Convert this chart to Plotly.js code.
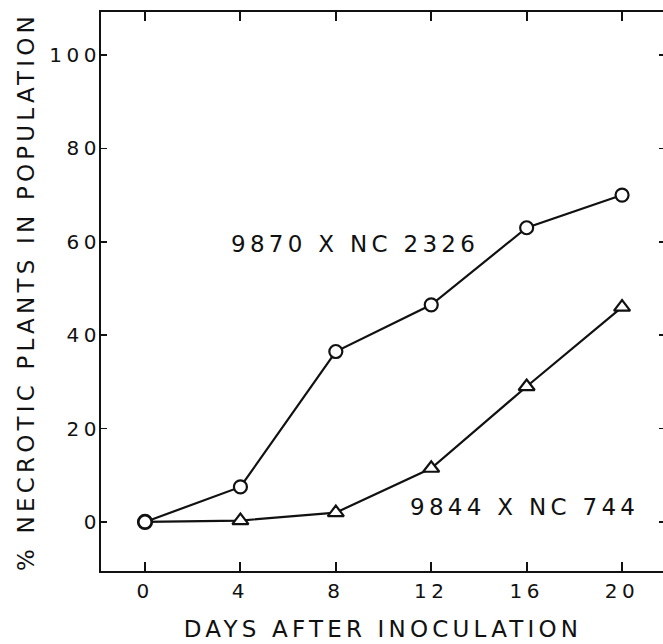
<!DOCTYPE html>
<html>
<head>
<meta charset="utf-8">
<script src="https://cdn.plot.ly/plotly-3.0.1.min.js"></script>
<style>
  html, body { margin: 0; padding: 0; overflow: hidden; background: #fff; }
  .xtick text, .ytick text { letter-spacing: 4.5px; }
  text.xtitle, text.ytitle { letter-spacing: 4.2px; }
  text.annotation-text { letter-spacing: 4.3px; }
</style>
</head>
<body>
<div id="chart"></div>
<script>
// Data
var days = [0, 4, 8, 12, 16, 20];
var cross9870 = [0, 7.5, 36.5, 46.5, 63, 70];      // circles: 9870 X NC 2326
var cross9844 = [0, 0.3, 2, 11.5, 29, 46];         // triangles: 9844 X NC 744
var label9870 = "9870 X NC 2326";
var label9844 = "9844 X NC 744";
var xTicks = [0, 4, 8, 12, 16, 20];
var yTicks = [0, 20, 40, 60, 80, 100];
var xTitle = "DAYS AFTER INOCULATION";
var yTitle = "% NECROTIC PLANTS IN POPULATION";

var FONT = "DejaVu Sans, Liberation Sans, Arial, sans-serif";
var INK = "#111111";

var triSymbols = days.map(function (d, i) { return i === 0 ? "circle" : "triangle-up"; });

var traces = [
  {
    x: days, y: cross9844, type: "scatter", mode: "lines+markers",
    line: { color: INK, width: 2.2 },
    marker: { symbol: triSymbols, size: 14, color: "#ffffff", line: { color: INK, width: 2.2 } },
    hoverinfo: "x+y", showlegend: false
  },
  {
    x: days, y: cross9870, type: "scatter", mode: "lines+markers",
    line: { color: INK, width: 2.2 },
    marker: { symbol: "circle", size: 13, color: "#ffffff", line: { color: INK, width: 2.2 } },
    hoverinfo: "x+y", showlegend: false
  }
];

var layout = {
  width: 665, height: 644,
  margin: { l: 101, r: 0, t: 12, b: 73 },
  paper_bgcolor: "#ffffff", plot_bgcolor: "#ffffff",
  font: { family: FONT, color: INK },
  showlegend: false,
  xaxis: {
    range: [-1.845, 21.8],
    tickvals: xTicks, ticktext: xTicks.map(String),
    ticks: "inside", ticklen: 9, tickwidth: 2, tickcolor: INK,
    showline: true, linecolor: INK, linewidth: 2, mirror: "ticks",
    showgrid: false, zeroline: false,
    tickfont: { family: FONT, size: 20, color: INK },
    ticklabelstandoff: 1,
    title: { text: xTitle, font: { family: FONT, size: 23, color: INK }, standoff: 19 },
    automargin: false, fixedrange: true
  },
  yaxis: {
    range: [-10.5, 109.2],
    tickvals: yTicks, ticktext: yTicks.map(String),
    ticks: "inside", ticklen: 6, tickwidth: 1.5, tickcolor: INK,
    showline: true, linecolor: INK, linewidth: 2, mirror: "ticks",
    showgrid: false, zeroline: false,
    tickfont: { family: FONT, size: 20, color: INK },
    ticklabelstandoff: -6,
    title: { text: yTitle, font: { family: FONT, size: 23, color: INK }, standoff: 8 },
    automargin: false, fixedrange: true
  },
  annotations: [
    { x: 3.52, y: 59.6, xref: "x", yref: "y", text: label9870, showarrow: false,
      xanchor: "left", yanchor: "middle", font: { family: FONT, size: 23, color: INK } },
    { x: 11.03, y: 3.3, xref: "x", yref: "y", text: label9844, showarrow: false,
      xanchor: "left", yanchor: "middle", font: { family: FONT, size: 23, color: INK } }
  ]
};

Plotly.newPlot("chart", traces, layout, { displayModeBar: false, staticPlot: true });
</script>
</body>
</html>
